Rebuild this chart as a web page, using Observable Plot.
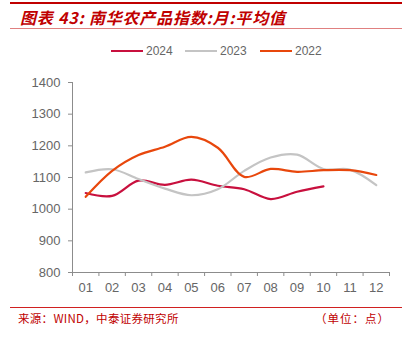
<!DOCTYPE html>
<html><head><meta charset="utf-8">
<script src="https://cdn.jsdelivr.net/npm/d3@7"></script>
<script src="https://cdn.jsdelivr.net/npm/@observablehq/plot@0.6"></script>
<style>
body{margin:0;background:#fff;}
#wrap{position:relative;width:402px;height:342px;overflow:hidden;font-family:"Liberation Sans",Arial,sans-serif;}
.topline{position:absolute;left:10px;right:0;top:2px;height:2px;background:#C00000;}
.subline{position:absolute;left:10px;right:0;top:28px;height:1px;background:#E08080;}
.title{position:absolute;left:20px;top:5px;font-family:"Noto Sans CJK SC",sans-serif;font-weight:bold;font-style:italic;font-size:16px;letter-spacing:0.8px;color:#C00000;white-space:pre;}
.legend{position:absolute;top:44px;left:0;width:402px;font-size:12px;color:#666;}
.li{position:absolute;top:0;display:flex;align-items:center;}
.li span.sw{display:inline-block;width:32px;height:2px;margin-right:3px;}
.footline{position:absolute;left:10px;right:0;top:307px;height:1px;background:#D02020;}
.src{position:absolute;left:18px;top:310px;font-family:"Noto Sans CJK SC",sans-serif;font-size:11.5px;letter-spacing:0.3px;color:#C00000;}
.unit{position:absolute;right:12px;top:310px;font-family:"Noto Sans CJK SC",sans-serif;font-size:11.5px;letter-spacing:1px;color:#C00000;}
#chart{position:absolute;left:0;top:70px;}
</style></head>
<body>
<div id="wrap">
<div class="topline"></div>
<div class="title">图表 43: 南华农产品指数:月:平均值</div>
<div class="subline"></div>
<div class="legend" id="legend"></div>
<div id="chart"></div>
<div class="footline"></div>
<div class="src">来源：WIND，中泰证券研究所</div>
<div class="unit">（单位：点）</div>
</div>
<script>
const monthLabels = ["01","02","03","04","05","06","07","08","09","10","11","12"];
const seriesNames = ["2024","2023","2022"];
const seriesColors = ["#C8103E","#C4C4C4","#E8470C"];
const v2024 = [1051,1042,1090,1077,1093,1074,1063,1032,1055,1072];
const v2023 = [1116,1126,1095,1065,1044,1063,1121,1163,1172,1127,1125,1076];
const v2022 = [1039,1121,1171,1197,1228,1194,1102,1127,1118,1123,1123,1108];
const yTicks = [800,900,1000,1100,1200,1300,1400];

const allVals = [v2024, v2023, v2022];
const data = [];
seriesNames.forEach((s, si) => {
  allVals[si].forEach((v, i) => data.push({series: s, m: i + 1, v}));
});

// legend
const lg = document.getElementById("legend");
const lx = [111, 185, 260];
seriesNames.forEach((s, i) => {
  const d = document.createElement("div");
  d.className = "li";
  d.style.left = lx[i] + "px";
  d.innerHTML = `<span class="sw" style="background:${seriesColors[i]}"></span><span>${s}</span>`;
  lg.appendChild(d);
});

const monthIdx = monthLabels.map((_, i) => i + 1);
const bounds = d3.range(0, monthLabels.length + 1).map(i => i + 0.5);
const axisColor = "#8c8c8c";

const chart = Plot.plot({
  width: 402,
  height: 230,
  marginLeft: 72,
  marginRight: 13,
  marginTop: 12,
  marginBottom: 28,
  style: {fontFamily: "'Liberation Sans', Arial, sans-serif", fontSize: "13px", color: "#595959", background: "transparent"},
  x: {domain: [0.5, monthLabels.length + 0.5]},
  y: {domain: [800, 1400]},
  color: {domain: seriesNames, range: seriesColors},
  marks: [
    Plot.ruleX([0.5], {stroke: axisColor, strokeWidth: 1}),
    Plot.ruleY([800], {stroke: axisColor, strokeWidth: 1}),
    Plot.axisY({ticks: yTicks, tickSize: 4, tickPadding: 8, tickFormat: d => String(d), stroke: axisColor, label: null, fill: "#666", fontSize: 13}),
    Plot.axisX({ticks: bounds, tickSize: 4, tickFormat: () => "", stroke: axisColor, label: null}),
    Plot.axisX({ticks: monthIdx, tickSize: 0, tickPadding: 10, tickFormat: d => monthLabels[d - 1], label: null, fill: "#666", fontSize: 13}),
    Plot.line(data, {x: "m", y: "v", z: "series", stroke: "series", strokeWidth: 2.2, curve: "catmull-rom"})
  ]
});
document.getElementById("chart").appendChild(chart);
</script>
</body></html>
